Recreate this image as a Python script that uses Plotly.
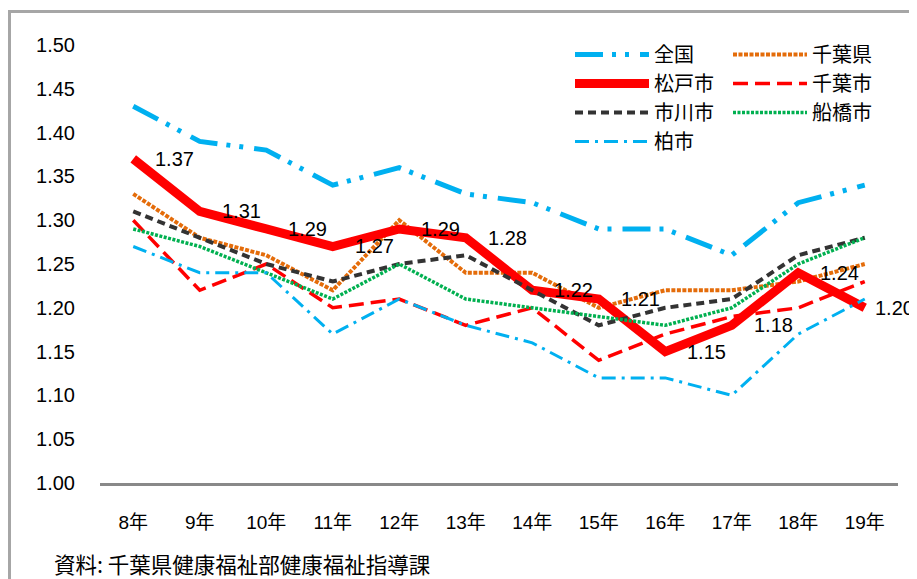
import plotly.graph_objects as go

years = ["8年", "9年", "10年", "11年", "12年", "13年", "14年", "15年", "16年", "17年", "18年", "19年"]

zenkoku   = [1.43, 1.39, 1.38, 1.34, 1.36, 1.33, 1.32, 1.29, 1.29, 1.26, 1.32, 1.34]
chiba_ken = [1.33, 1.28, 1.26, 1.22, 1.30, 1.24, 1.24, 1.20, 1.22, 1.22, 1.23, 1.25]
matsudo   = [1.37, 1.31, 1.29, 1.27, 1.29, 1.28, 1.22, 1.21, 1.15, 1.18, 1.24, 1.20]
chiba_shi = [1.30, 1.22, 1.25, 1.20, 1.21, 1.18, 1.20, 1.14, 1.17, 1.19, 1.20, 1.23]
ichikawa  = [1.31, 1.28, 1.25, 1.23, 1.25, 1.26, 1.22, 1.18, 1.20, 1.21, 1.26, 1.28]
funabashi = [1.29, 1.27, 1.24, 1.21, 1.25, 1.21, 1.20, 1.19, 1.18, 1.20, 1.25, 1.28]
kashiwa   = [1.27, 1.24, 1.24, 1.17, 1.21, 1.18, 1.16, 1.12, 1.12, 1.10, 1.17, 1.21]

y_ticks = [1.00, 1.05, 1.10, 1.15, 1.20, 1.25, 1.30, 1.35, 1.40, 1.45, 1.50]
source_text = "資料: 千葉県健康福祉部健康福祉指導課"

# page body has an 8px margin; figure coordinates are offset by it
OFF = 8
W, H = 917 - OFF, 579 - OFF
ML, MT = 100 - OFF, 45 - OFF
PR, PB = 898 - OFF, 483 - OFF
MR, MB = W - PR, H - PB
PW, PH = PR - ML, PB - MT

def px_x(p):
    return (p - OFF - ML) / PW

def px_y(p):
    return 1 - (p - OFF - MT) / PH

FONT = "Liberation Sans, Arial, Noto Sans CJK JP, sans-serif"
CJK = "Noto Sans CJK JP, Liberation Sans, sans-serif"

series = [
    ("全国", zenkoku, dict(color="#00B0F0", width=5, dash="28px,9px,4px,9px,4px,11px"), "legend"),
    ("千葉県", chiba_ken, dict(color="#E46C0A", width=4, dash="4px,1.5px"), "legend2"),
    ("松戸市", matsudo, dict(color="#FF0000", width=9), "legend"),
    ("千葉市", chiba_shi, dict(color="#FF0000", width=3.5, dash="15px,7px"), "legend2"),
    ("市川市", ichikawa, dict(color="#333333", width=4, dash="8px,5px"), "legend"),
    ("船橋市", funabashi, dict(color="#00B050", width=3.5, dash="3px,1.5px"), "legend2"),
    ("柏市", kashiwa, dict(color="#00B0F0", width=3, dash="14px,6px,3px,6px"), "legend"),
]

fig = go.Figure()
for name, vals, line, lg in series:
    fig.add_trace(go.Scatter(
        x=years, y=vals, name=name, mode="lines", line=line,
        legend=lg, hoverinfo="skip",
    ))

annotations = []
for i, (yr, v) in enumerate(zip(years, matsudo)):
    annotations.append(dict(
        x=yr, y=v, xref="x", yref="y", text=f"{v:.2f}", showarrow=False,
        xanchor="left", yanchor="middle", xshift=(8 if i == len(years) - 1 else 20),
        font=dict(family=FONT, size=20, color="#000000"),
    ))
annotations.append(dict(
    x=px_x(52), y=px_y(563), xref="paper", yref="paper", text=source_text,
    showarrow=False, xanchor="left", yanchor="middle",
    font=dict(family=CJK, size=21.5, color="#000000"),
))

fig.update_layout(
    width=W, height=H,
    margin=dict(l=ML, r=MR, t=MT, b=MB),
    paper_bgcolor="#FFFFFF", plot_bgcolor="#FFFFFF",
    font=dict(family=FONT, size=20, color="#000000"),
    showlegend=True,
    legend=dict(
        x=px_x(570), y=px_y(35), xanchor="left", yanchor="top",
        orientation="v", itemwidth=74, bgcolor="rgba(0,0,0,0)",
        font=dict(family=CJK, size=20, color="#000000"),
        traceorder="normal", tracegroupgap=0,
    ),
    legend2=dict(
        x=px_x(728), y=px_y(35), xanchor="left", yanchor="top",
        orientation="v", itemwidth=74, bgcolor="rgba(0,0,0,0)",
        font=dict(family=CJK, size=20, color="#000000"),
        traceorder="normal", tracegroupgap=0,
    ),
    annotations=annotations,
    shapes=[dict(
        type="rect", xref="paper", yref="paper",
        x0=px_x(9.5), y0=px_y(11.5), x1=px_x(940), y1=px_y(620),
        line=dict(color="#A6A6A6", width=3), fillcolor="rgba(0,0,0,0)", layer="below",
    )],
    xaxis=dict(
        type="category", range=[-0.5, len(years) - 0.5],
        showline=True, linecolor="#898989", linewidth=3,
        showgrid=False, zeroline=False, ticks="", ticklabelstandoff=20,
        tickfont=dict(family=FONT, size=19, color="#000000"),
    ),
    yaxis=dict(
        range=[1.0, 1.5], tickvals=y_ticks, ticktext=[f"{t:.2f}" for t in y_ticks],
        showline=False, showgrid=False, zeroline=False, ticks="",
        ticklabelstandoff=24,
        tickfont=dict(family=FONT, size=20, color="#000000"),
    ),
)

fig.write_html("out.html")
